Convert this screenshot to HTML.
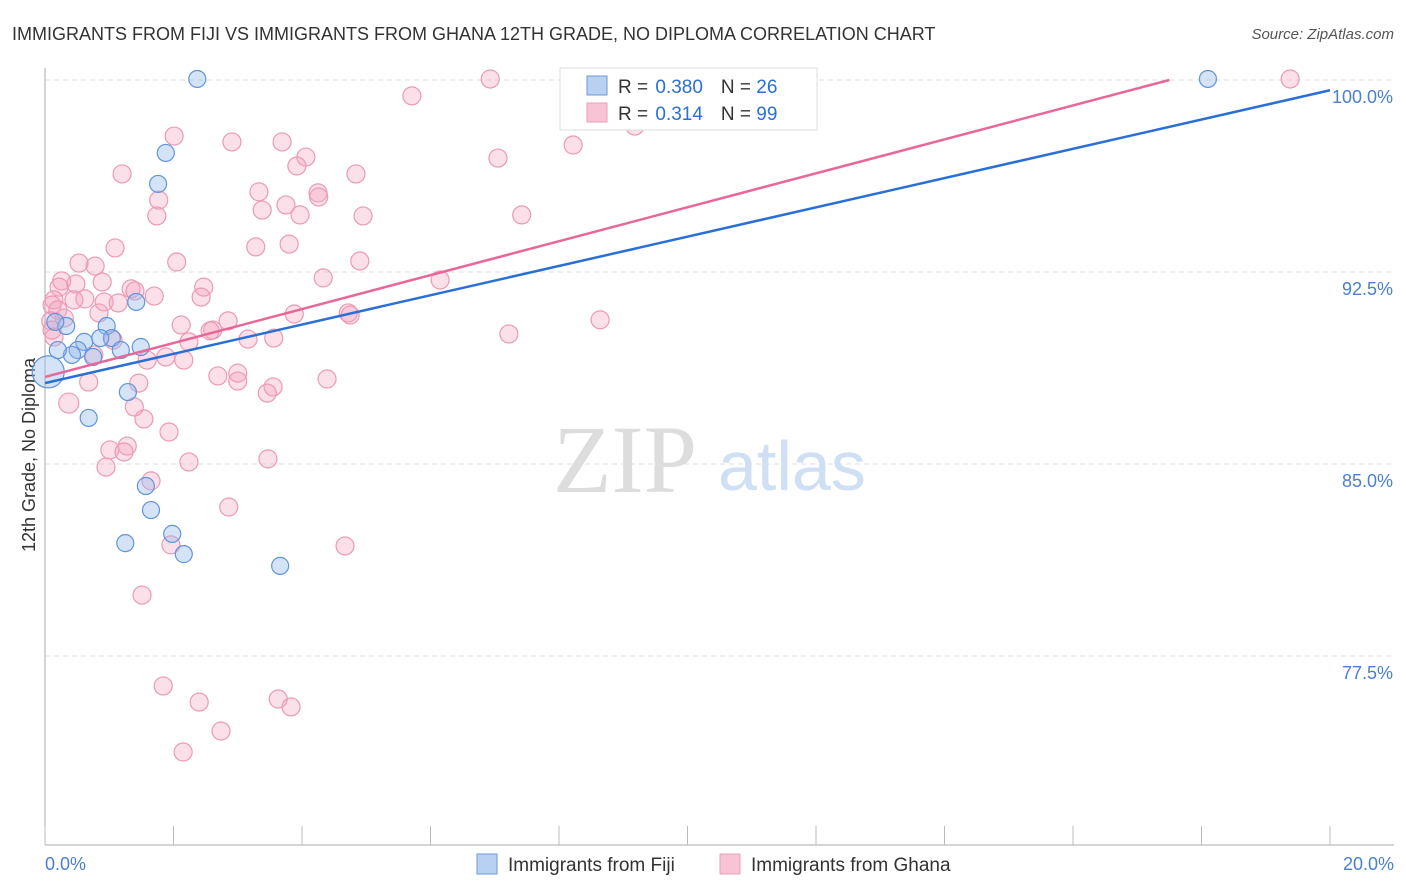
<!DOCTYPE html>
<html><head><meta charset="utf-8"><style>
body{margin:0;background:#fff;font-family:"Liberation Sans",sans-serif;}
#c{position:relative;width:1406px;height:892px;overflow:hidden}
</style></head><body>
<div id="c">
<svg id="s" width="1406" height="892"></svg>
</div>
<script>
const fijiX=[2.37,1.88,1.76,1.42,0.96,0.33,0.16,0.61,0.51,0.42,1.04,0.86,1.18,1.49,0.75,1.29,0.68,1.57,1.65,1.98,1.25,2.16,3.66,18.10,0.05,0.2];
const fijiY=[100.04,97.15,95.94,91.33,90.39,90.39,90.55,89.77,89.45,89.26,89.92,89.92,89.45,89.57,89.18,87.81,86.80,84.14,83.20,82.27,81.91,81.48,81.02,100.04,88.6,89.45];
const ghanaX=[6.93,19.38,5.71,2.01,2.91,3.69,8.22,9.18,7.05,4.06,3.92,1.20,4.84,3.33,4.25,4.26,1.77,3.75,3.38,3.97,1.74,4.95,7.42,1.09,3.28,3.80,2.05,0.53,0.78,4.90,0.26,4.33,6.15,0.89,0.48,0.22,2.47,1.34,1.40,2.43,1.70,0.62,0.92,1.14,0.14,0.45,0.11,0.20,0.84,0.30,0.09,3.88,4.72,4.75,8.64,2.85,2.12,2.61,2.57,3.16,3.56,1.06,2.24,7.22,0.14,0.76,1.88,2.16,1.59,3.00,2.69,3.00,4.39,3.55,3.46,0.68,1.46,0.37,1.39,1.54,1.93,1.28,1.01,1.23,3.47,2.24,0.95,1.65,2.86,1.96,4.67,1.51,1.84,2.40,3.63,3.83,2.74,2.15,0.11];
const ghanaY=[100.04,100.04,99.38,97.81,97.58,97.58,97.46,98.20,96.95,96.99,96.64,96.33,96.33,95.63,95.59,95.43,95.31,95.12,94.92,94.73,94.69,94.69,94.73,93.44,93.48,93.59,92.89,92.85,92.73,92.93,92.15,92.27,92.19,92.11,92.03,91.91,91.91,91.84,91.76,91.52,91.56,91.45,91.33,91.29,91.41,91.41,91.21,91.02,90.90,90.70,90.59,90.86,90.90,90.82,90.63,90.59,90.43,90.23,90.20,89.88,89.92,89.84,89.77,90.08,89.96,89.26,89.18,89.06,89.06,88.55,88.44,88.24,88.32,88.01,87.77,88.20,88.16,87.38,87.23,86.76,86.25,85.70,85.55,85.47,85.20,85.08,84.88,84.34,83.32,81.84,81.80,79.88,76.33,75.70,75.82,75.51,74.57,73.75,90.23];
const yTicks=[100,92.5,85,77.5];
const yTickLabels=["100.0%","92.5%","85.0%","77.5%"];
const fijiTrend=[[0,88.16],[20,99.6]];
const ghanaTrend=[[0,88.4],[17.5,100]];
const X=v=>45+v*64.25, Y=v=>80+(100-v)*25.6;
const s=document.getElementById('s'),NS='http://www.w3.org/2000/svg';
function mk(t,a,p,txt){const e=document.createElementNS(NS,t);for(const k in a)e.setAttribute(k,a[k]);if(txt!=null)e.textContent=txt;(p||s).appendChild(e);return e;}
let e;
e=mk('text',{x:12,y:40,'font-size':18,fill:'#333'},null,'IMMIGRANTS FROM FIJI VS IMMIGRANTS FROM GHANA 12TH GRADE, NO DIPLOMA CORRELATION CHART');

e=mk('text',{x:1394,y:39,'font-size':15,fill:'#555','font-style':'italic','text-anchor':'end'},null,'Source: ZipAtlas.com');

yTicks.forEach((t,i)=>{
 e=mk('line',{x1:45,x2:1394,y1:Y(t),y2:Y(t),stroke:'#ddd','stroke-dasharray':'5,4'});
 
 e=mk('text',{x:1393,y:Y(t)+23,'font-size':18,fill:'#4a7fd0','text-anchor':'end'},null,yTickLabels[i]);
 
});
e=mk('line',{x1:45,x2:45,y1:68,y2:845,stroke:'#aaa'});
e=mk('line',{x1:45,x2:1394,y1:845,y2:845,stroke:'#aaa'});
for(let i=0;i<=10;i++){e=mk('line',{x1:X(i*2),x2:X(i*2),y1:826,y2:845,stroke:'#bbb'});}
e=mk('text',{x:45,y:870,'font-size':18,fill:'#4a7fd0'},null,'0.0%');
e=mk('text',{x:1394,y:870,'font-size':18,fill:'#4a7fd0','text-anchor':'end'},null,'20.0%');
e=mk('text',{x:35,y:455,'font-size':18,fill:'#333','text-anchor':'middle',transform:'rotate(-90 35 455)'},null,'12th Grade, No Diploma');

e=mk('text',{x:553,y:492,'font-size':96,fill:'#ddd','font-family':'Liberation Serif, serif'},null,'ZIP');
e=mk('text',{x:718,y:490,'font-size':70,fill:'#cfe0f4'},null,'atlas');
ghanaX.forEach((v,i)=>{e=mk('circle',{cx:X(v),cy:Y(ghanaY[i]),r:i==77?10:9,fill:'rgba(244,163,192,0.35)',stroke:'#eb9ab5','stroke-width':1.2});
 });
fijiX.forEach((v,i)=>{e=mk('circle',{cx:X(v),cy:Y(fijiY[i]),r:i==24?16:8.5,fill:'rgba(150,185,235,0.4)',stroke:'#5f95dc','stroke-width':1.2});
 });
e=mk('line',{x1:X(fijiTrend[0][0]),y1:Y(fijiTrend[0][1]),x2:X(fijiTrend[1][0]),y2:Y(fijiTrend[1][1]),stroke:'#2a6fd6','stroke-width':2.5});

e=mk('line',{x1:X(ghanaTrend[0][0]),y1:Y(ghanaTrend[0][1]),x2:X(ghanaTrend[1][0]),y2:Y(ghanaTrend[1][1]),stroke:'#e8679a','stroke-width':2.5});

// legend
const lg=mk('g',{});
mk('rect',{x:560,y:68,width:257,height:62,fill:'#fff',stroke:'#ddd'},lg);
mk('rect',{x:587,y:76,width:20,height:19,fill:'#b8d0f2',stroke:'#6a9ad8'},lg);
mk('rect',{x:587,y:103,width:20,height:19,fill:'#f8c3d4',stroke:'#e8a0b8'},lg);
[['R = ','0.380','26',93],['R = ','0.314','99',120]].forEach(r=>{
 const t=mk('text',{x:618,y:r[3],'font-size':19,fill:'#333'},lg);
 mk('tspan',{},t,r[0]);mk('tspan',{fill:'#2a6fd6',dx:2},t,r[1]);
 mk('tspan',{dx:18},t,'N = ');mk('tspan',{fill:'#2a6fd6'},t,r[2]);
});
const bl=mk('g',{});
mk('rect',{x:477,y:854,width:20,height:20,fill:'#b8d0f2',stroke:'#6a9ad8'},bl);
mk('text',{x:508,y:871,'font-size':19,fill:'#333'},bl,'Immigrants from Fiji');
mk('rect',{x:720,y:854,width:20,height:20,fill:'#f8c3d4',stroke:'#e8a0b8'},bl);
mk('text',{x:751,y:871,'font-size':19,fill:'#333'},bl,'Immigrants from Ghana');
</script>
</body></html>
